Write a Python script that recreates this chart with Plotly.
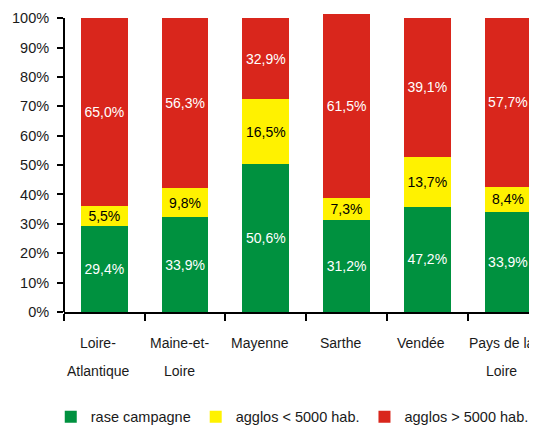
import plotly.graph_objects as go

# Répartition de la population par type d'espace
departements = ["Loire-Atlantique", "Maine-et-Loire", "Mayenne", "Sarthe", "Vendée", "Pays de la Loire"]
label_line1 = ["Loire-", "Maine-et-", "Mayenne", "Sarthe", "Vendée", "Pays de la"]
label_line2 = ["Atlantique", "Loire", "", "", "", "Loire"]

# segment heights as drawn in the source chart (%)
rase_campagne = [29.2, 32.3, 50.2, 31.4, 35.8, 34.1]
agglos_moins_5000 = [6.8, 9.9, 22.2, 7.5, 17.1, 8.6]
agglos_plus_5000 = [64.0, 57.8, 27.6, 62.5, 47.1, 57.3]

# values printed on the segments
lbl_rase_campagne = ["29,4%", "33,9%", "50,6%", "31,2%", "47,2%", "33,9%"]
lbl_agglos_moins_5000 = ["5,5%", "9,8%", "16,5%", "7,3%", "13,7%", "8,4%"]
lbl_agglos_plus_5000 = ["65,0%", "56,3%", "32,9%", "61,5%", "39,1%", "57,7%"]

y_ticks = list(range(0, 101, 10))
Y_MAX = 101.4  # Sarthe's stack overshoots 100 % slightly

FONT = "Liberation Sans, Arial, sans-serif"
INK = "#1a1a1a"
series = [
    ("rase campagne", rase_campagne, lbl_rase_campagne, "#00913f", "white"),
    ("agglos < 5000 hab.", agglos_moins_5000, lbl_agglos_moins_5000, "#fff200", "black"),
    ("agglos > 5000 hab.", agglos_plus_5000, lbl_agglos_plus_5000, "#d9261c", "white"),
]

fig = go.Figure()
for name, vals, labels, color, txt_color in series:
    fig.add_trace(go.Bar(
        x=departements, y=vals, name=name,
        marker=dict(color=color, line=dict(width=0)),
        text=labels,
        textposition="inside", insidetextanchor="middle",
        textangle=0, constraintext="none",
        insidetextfont=dict(family=FONT, size=14, color=txt_color),
        hoverinfo="skip",
    ))

# two-line category labels with the wide line spacing of the original
for dep, l1, l2 in zip(departements, label_line1, label_line2):
    fig.add_annotation(x=dep, y=-0.104, xref="x", yref="paper", text=l1,
                       showarrow=False, xshift=-6, yanchor="middle",
                       font=dict(family=FONT, size=14, color=INK))
    if l2:
        fig.add_annotation(x=dep, y=-0.198, xref="x", yref="paper", text=l2,
                           showarrow=False, xshift=-6, yanchor="middle",
                           font=dict(family=FONT, size=14, color=INK))

# y axis line stops at the 100 % tick
fig.add_shape(type="line", xref="paper", yref="y", x0=0, x1=0, y0=0, y1=max(y_ticks),
              line=dict(color="black", width=2), layer="above")

# the page body keeps its 8px default margin, so the figure is 8px smaller
fig.update_layout(
    barmode="stack",
    bargap=0.42,
    width=529, height=418,
    margin=dict(t=5.9, l=56, r=0, b=114, pad=0, autoexpand=False),
    paper_bgcolor="white", plot_bgcolor="white",
    font=dict(family=FONT, size=14, color=INK),
    showlegend=True,
    legend=dict(orientation="h", x=-0.028, xanchor="left", y=-0.352, yanchor="middle",
                traceorder="normal", font=dict(family=FONT, size=14.5, color=INK),
                itemclick=False, itemdoubleclick=False),
    xaxis=dict(
        type="category", range=[-0.5, 5.36], automargin=False,
        showticklabels=False, ticks="outside", tickson="boundaries",
        ticklen=7, tickwidth=2, tickcolor="black",
        showline=True, linecolor="black", linewidth=2,
        showgrid=False, zeroline=False, fixedrange=True,
    ),
    yaxis=dict(
        range=[0, Y_MAX], tickvals=y_ticks, ticktext=[f"{v}%" for v in y_ticks],
        automargin=False,
        ticks="outside", ticklen=6, tickwidth=2, tickcolor="black",
        ticklabelstandoff=5, tickfont=dict(family=FONT, size=14.5, color=INK),
        showline=False,
        showgrid=False, zeroline=False, fixedrange=True,
    ),
)

fig.write_html("out.html", config={"displayModeBar": False})
